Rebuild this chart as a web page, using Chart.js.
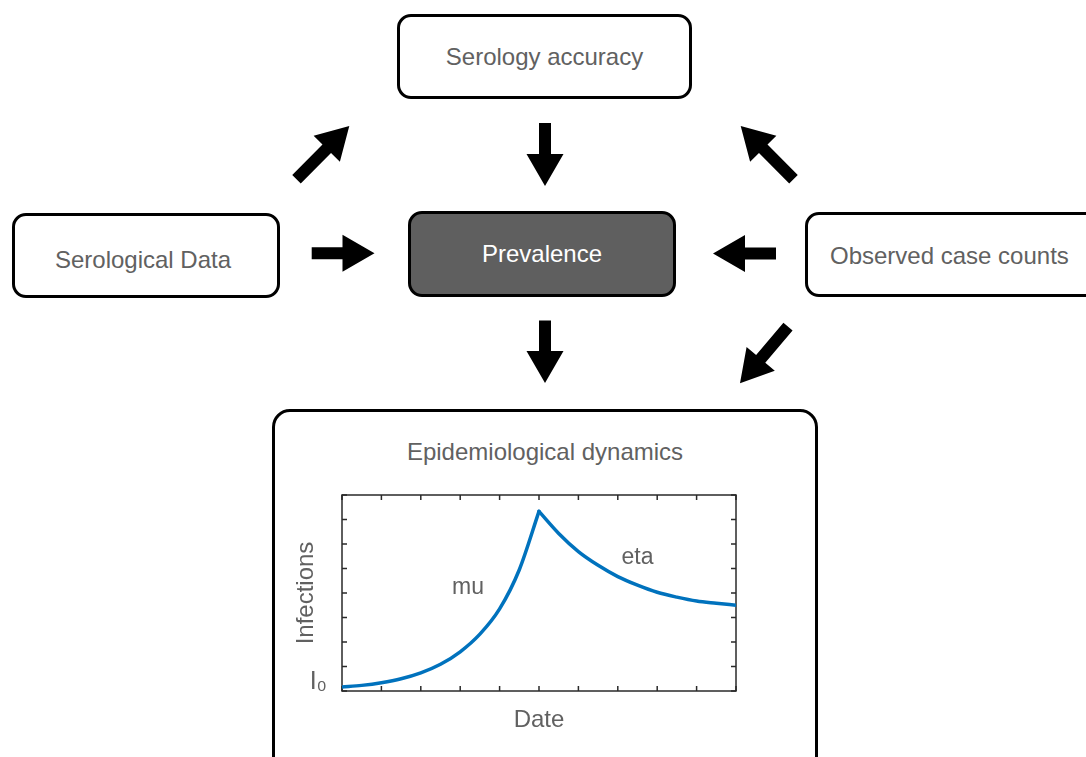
<!DOCTYPE html>
<html>
<head>
<meta charset="utf-8">
<title>Epidemiological dynamics</title>
<script src="https://cdn.jsdelivr.net/npm/chart.js@4.4.1/dist/chart.umd.min.js"></script>
<style>
body {
    margin: 0;
    background: #fff;
    width: 1086px;
    height: 757px;
    overflow: hidden;
    position: relative;
    font-family: "Liberation Sans", Arial, Helvetica, sans-serif;
}
.box {
    position: absolute;
    box-sizing: border-box;
    border: 3px solid #000;
    border-radius: 14px;
    background: #fff;
    color: #616161;
    font-size: 24px;
    display: flex;
    align-items: center;
    justify-content: center;
}
#arrows { position: absolute; left: 0; top: 0; }
#chartWrap { position: absolute; left: 280px; top: 465px; width: 460px; height: 274px; }
</style>
</head>
<body>
<canvas id="arrows" width="1086" height="757"></canvas>

<div class="box" style="left:397px; top:14px; width:295px; height:85px;">Serology accuracy</div>
<div class="box" style="left:12px; top:213px; width:268px; height:85px; padding:8px 6px 0 0;">Serological Data</div>
<div class="box" style="left:408px; top:211px; width:268px; height:86px; background:#5f5f5f; color:#fff;">Prevalence</div>
<div class="box" style="left:805px; top:212px; width:300px; height:85px; justify-content:flex-start; padding:2px 0 0 22px;">Observed case counts</div>
<div class="box" style="left:272px; top:409px; width:546px; height:380px; border-radius:18px; align-items:flex-start; padding-top:26px;">Epidemiological dynamics</div>

<div id="chartWrap"><canvas id="dynamicsChart" width="460" height="274"></canvas></div>

<script>
// values (x = date, arbitrary units)
const dates = [0, 0.5, 1, 1.5, 2, 2.5, 3, 3.5, 4, 4.5, 5, 5.5, 6, 6.5, 7, 7.5, 8, 8.5, 9, 9.5, 10];
const infections = [0.16, 0.23, 0.34, 0.50, 0.74, 1.09, 1.60, 2.32, 3.35, 4.95, 7.33,
                    6.43, 5.69, 5.13, 4.67, 4.32, 4.03, 3.83, 3.67, 3.58, 3.50];
const peakIndex = 10;
const yTickLabel = "I\u2080";
const xTitle = "Date";
const yTitle = "Infections";

const textGray = "#616161";
const lineBlue = "#0072BD";

// block arrows of the diagram: [tailX, tailY, tipX, tipY]
const arrowList = [
    [545, 123, 545, 186],
    [545, 320.5, 545, 383],
    [311.7, 253.3, 374.5, 253.3],
    [776, 253.5, 713, 253.5],
    [296.5, 179.2, 349.3, 126],
    [793.5, 179.2, 740.7, 126],
    [788, 326.7, 740, 383.3]
];

function drawArrow(ctx, x1, y1, x2, y2) {
    const shaft = 6, head = 18.5, headLen = 32;
    const len = Math.hypot(x2 - x1, y2 - y1);
    ctx.save();
    ctx.translate(x1, y1);
    ctx.rotate(Math.atan2(y2 - y1, x2 - x1));
    ctx.beginPath();
    ctx.moveTo(0, -shaft);
    ctx.lineTo(len - headLen, -shaft);
    ctx.lineTo(len - headLen, -head);
    ctx.lineTo(len, 0);
    ctx.lineTo(len - headLen, head);
    ctx.lineTo(len - headLen, shaft);
    ctx.lineTo(0, shaft);
    ctx.closePath();
    ctx.fillStyle = "#000";
    ctx.fill();
    ctx.restore();
}

const actx = document.getElementById("arrows").getContext("2d");
arrowList.forEach(a => drawArrow(actx, a[0], a[1], a[2], a[3]));

function toPoints(from, to) {
    const pts = [];
    for (let i = from; i <= to; i++) {
        pts.push({ x: dates[i], y: infections[i] });
    }
    return pts;
}

// matlab-like box with ticks pointing inward on all four sides
const axesBox = {
    id: "axesBox",
    beforeDatasetsDraw(chart) {
        const { ctx, chartArea: a, scales: { x, y } } = chart;
        ctx.save();
        ctx.strokeStyle = "#2a2a2a";
        ctx.lineWidth = 1.5;
        ctx.strokeRect(a.left, a.top, a.right - a.left, a.bottom - a.top);
        ctx.beginPath();
        x.ticks.forEach(t => {
            const px = x.getPixelForValue(t.value);
            ctx.moveTo(px, a.bottom); ctx.lineTo(px, a.bottom - 5);
            ctx.moveTo(px, a.top); ctx.lineTo(px, a.top + 5);
        });
        y.ticks.forEach(t => {
            const py = y.getPixelForValue(t.value);
            ctx.moveTo(a.left, py); ctx.lineTo(a.left + 5, py);
            ctx.moveTo(a.right, py); ctx.lineTo(a.right - 5, py);
        });
        ctx.stroke();
        ctx.restore();
    }
};

Chart.defaults.font.family = '"Liberation Sans", Arial, Helvetica, sans-serif';
Chart.defaults.color = textGray;

const lineStyle = {
    borderColor: lineBlue,
    borderWidth: 3.5,
    pointRadius: 0,
    fill: false,
    cubicInterpolationMode: "monotone",
    borderJoinStyle: "round",
    borderCapStyle: "round"
};

new Chart(document.getElementById("dynamicsChart"), {
    type: "line",
    data: {
        datasets: [
            Object.assign({ label: "mu", data: toPoints(0, peakIndex) }, lineStyle),
            Object.assign({ label: "eta", data: toPoints(peakIndex, dates.length - 1) }, lineStyle)
        ]
    },
    options: {
        responsive: false,
        animation: false,
        events: [],
        layout: { padding: { left: 10, top: 0, right: 4, bottom: 0 } },
        plugins: { legend: { display: false }, tooltip: { enabled: false } },
        scales: {
            x: {
                type: "linear",
                min: 0,
                max: 10,
                ticks: { display: false, stepSize: 1 },
                grid: { display: false, drawTicks: false },
                border: { display: false },
                title: { display: true, text: xTitle, font: { size: 24 }, padding: { top: 0, bottom: 4 } },
                afterFit: s => { s.height = 48; }
            },
            y: {
                min: 0,
                max: 8,
                ticks: {
                    stepSize: 1,
                    autoSkip: false,
                    padding: 15,
                    labelOffset: -9,
                    font: { size: 25 },
                    callback: v => (v === 0 ? yTickLabel : "")
                },
                grid: { display: false, drawTicks: false },
                border: { display: false },
                title: { display: true, text: yTitle, font: { size: 24 }, padding: { top: 2, bottom: 0 } },
                afterFit: s => { s.width = 52; }
            }
        }
    },
    plugins: [axesBox, {
        id: "curveLabels",
        afterDatasetsDraw(chart) {
            const { ctx, scales: { x, y } } = chart;
            ctx.save();
            ctx.fillStyle = textGray;
            ctx.font = '23px "Liberation Sans", Arial, sans-serif';
            ctx.textAlign = "center";
            ctx.textBaseline = "middle";
            chart.data.datasets.forEach((ds, i) => {
                // label sits beside its segment
                const p = i === 0 ? { x: 3.2, y: 4.2 } : { x: 7.5, y: 5.45 };
                ctx.fillText(ds.label, x.getPixelForValue(p.x), y.getPixelForValue(p.y));
            });
            ctx.restore();
        }
    }]
});
</script>
</body>
</html>
